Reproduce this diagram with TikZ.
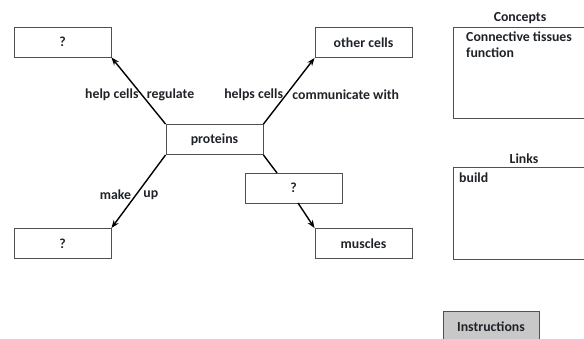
\documentclass[tikz,border=0pt]{standalone}
\usepackage{fontspec}
\setmainfont{Carlito}
\usetikzlibrary{arrows.meta}
\definecolor{txt}{HTML}{1F2328}
\definecolor{bord}{HTML}{505050}
\definecolor{instr}{HTML}{C8C8C8}
\tikzset{
  every node/.style={font=\fontsize{13.8}{16}\selectfont\bfseries, text=txt},
  cbox/.style={draw=bord, line width=0.9pt, minimum width=97pt, minimum height=30pt, inner sep=0pt},
  conn/.style={line width=1.4pt, draw=black, -{Stealth[length=8pt,width=6pt]}},
  plain/.style={line width=1.4pt, draw=black},
  lab/.style={inner sep=1pt},
  panel/.style={draw=bord, line width=0.9pt, inner sep=0pt}
}
\begin{document}
\begin{tikzpicture}[x=1pt,y=-1pt]
\useasboundingbox (0,0) rectangle (584,339);
\begin{scope}
\clip (0,0) rectangle (584,339);
% concept nodes
\node[cbox] (tl) at (62.5,42) {?};
\node[cbox] (prot) at (214.5,139.5) {proteins};
\node[cbox] (other) at (363.5,42.5) {other cells};
\node[cbox] (mid) at (293.5,188) {?};
\node[cbox] (musc) at (363.5,243.5) {muscles};
\node[cbox] (bl) at (62.5,243.5) {?};
% connectors
\draw[conn] (prot.north west) -- (tl.south east)
  node[pos=0.45, lab, anchor=east, xshift=-1pt, yshift=-1pt] {help cells}
  node[pos=0.45, lab, anchor=west, xshift=4pt, yshift=-1pt] {regulate};
\draw[conn] (prot.north east) -- (other.south west)
  node[pos=0.455, lab, anchor=east, xshift=-2pt, yshift=-1pt] {helps cells}
  node[pos=0.455, lab, anchor=west, xshift=4pt, yshift=-1pt] {communicate with};
\draw[conn] (prot.south west) -- (bl.north east)
  node[pos=0.55, lab, anchor=east, xshift=-3pt] {make}
  node[pos=0.55, lab, anchor=west, xshift=6pt] {up};
\coordinate (midtop) at (277,173);
\coordinate (midbot) at (298,203);
\draw[plain] (prot.south east) -- (midtop);
\draw[conn] (midbot) -- (musc.north west);
% side panels
\node (ctitle) at (520,18) {Concepts};
\node[panel, minimum width=140pt, minimum height=91pt] (concepts) at (523,72.5) {};
\node[anchor=north west, align=left, inner sep=0pt, font=\fontsize{13.8}{16}\selectfont\bfseries] (ctext) at (466,32) {Connective tissues\\function};
\node (ltitle) at (524,159) {Links};
\node[panel, minimum width=140pt, minimum height=92pt] (links) at (523,213) {};
\node[anchor=north west, inner sep=0pt] (ltext) at (459,173) {build};
\node[panel, fill=instr, minimum width=96pt, minimum height=32pt] (instr) at (491,327) {Instructions};
\end{scope}
\end{tikzpicture}
\end{document}
